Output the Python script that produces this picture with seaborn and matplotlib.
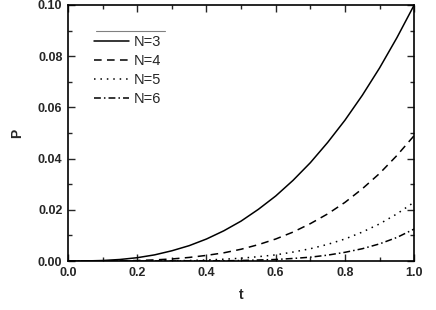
import matplotlib
matplotlib.use("Agg")
import matplotlib.pyplot as plt
import seaborn as sns
import pandas as pd
from matplotlib.ticker import MultipleLocator, FormatStrFormatter

t = [0.0, 0.05, 0.1, 0.15, 0.2, 0.25, 0.3, 0.35, 0.4, 0.45, 0.5,
     0.55, 0.6, 0.65, 0.7, 0.75, 0.8, 0.85, 0.9, 0.95, 1.0]
p_n3 = [0.0, 0.00003, 0.0002, 0.0006, 0.0013, 0.0024, 0.0040, 0.0060, 0.0086, 0.0118, 0.0156,
        0.0202, 0.0254, 0.0315, 0.0384, 0.0463, 0.0550, 0.0647, 0.0754, 0.0872, 0.1000]
p_n4 = [0.0, 0.0, 0.00002, 0.00008, 0.0002, 0.00044, 0.0008, 0.0014, 0.0022, 0.0032, 0.0046,
        0.0064, 0.0086, 0.0113, 0.0146, 0.0184, 0.0229, 0.0282, 0.0342, 0.0412, 0.0490]
p_n5 = [0.0, 0.0, 0.0, 0.0, 0.00002, 0.00004, 0.0001, 0.0002, 0.0004, 0.0007, 0.0011,
        0.0017, 0.0024, 0.0035, 0.0048, 0.0065, 0.0086, 0.0113, 0.0145, 0.0184, 0.0230]
p_n6 = [0.0, 0.0, 0.0, 0.0, 0.0, 0.0, 0.00001, 0.00003, 0.00006, 0.0001, 0.0002,
        0.0004, 0.0006, 0.0010, 0.0015, 0.0023, 0.0034, 0.0048, 0.0067, 0.0092, 0.0125]
labels = ["N=3", "N=4", "N=5", "N=6"]

sns.set_style("ticks")
plt.rcParams['font.family'] = ['Liberation Sans', 'DejaVu Sans']

fig = plt.figure(figsize=(4.36, 3.10), dpi=100)
ax = fig.add_axes([0.156, 0.158, 0.794, 0.826])

series = [p_n3, p_n4, p_n5, p_n6]
styles = ['-', (0, (5, 3.5)), (0, (1, 3.2)), (0, (4.5, 2, 1, 2))]
for vals, lab, ls in zip(series, labels, styles):
    df = pd.DataFrame({"t": t, "P": vals})
    sns.lineplot(data=df, x="t", y="P", ax=ax, color="black", lw=1.1,
                 linestyle=ls, label=lab)

ax.set_xlim(0, 1.0)
ax.set_ylim(0, 0.10)
ax.xaxis.set_major_locator(MultipleLocator(0.2))
ax.xaxis.set_minor_locator(MultipleLocator(0.1))
ax.yaxis.set_major_locator(MultipleLocator(0.02))
ax.yaxis.set_minor_locator(MultipleLocator(0.01))
ax.xaxis.set_major_formatter(FormatStrFormatter('%.1f'))
ax.yaxis.set_major_formatter(FormatStrFormatter('%.2f'))
ax.tick_params(which='both', direction='in', top=True, right=True, width=1.0)
ax.tick_params(which='major', length=5, labelsize=9, pad=4)
ax.tick_params(which='minor', length=3)
for lbl in ax.get_xticklabels() + ax.get_yticklabels():
    lbl.set_fontweight('bold')
for sp in ax.spines.values():
    sp.set_linewidth(1.2)
    sp.set_color('black')

ax.set_xlabel("t", fontsize=10, fontweight='bold', labelpad=7)
ax.set_ylabel("P", fontsize=10, fontweight='bold', labelpad=10)

leg = ax.legend(loc='upper left', bbox_to_anchor=(0.075, 0.882), frameon=False,
                fontsize=10.5, handlelength=2.4, handletextpad=0.3,
                labelspacing=0.35, borderaxespad=0.0, borderpad=0.0)
ax.plot([0.08, 0.28], [0.898, 0.898], transform=ax.transAxes, color='gray', lw=0.8)

fig.savefig("out.png", dpi=100)
